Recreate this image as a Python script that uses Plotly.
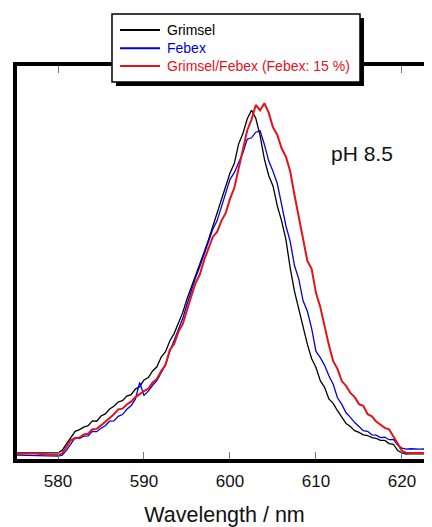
import plotly.graph_objects as go

wavelength = [575, 577, 579, 580, 580.5, 581, 581.5, 582, 582.5, 583, 583.5, 584, 584.5, 585, 585.5,
              586, 586.5, 587, 587.5, 588, 588.5, 589, 589.5, 590, 590.5, 591, 591.5, 592, 592.5,
              593, 593.5, 594, 594.5, 595, 595.5, 596, 596.5, 597, 597.5, 598, 598.5, 599, 599.5,
              600, 600.5, 601, 601.5, 602, 602.5, 603, 603.5, 604, 604.5, 605, 605.5, 606, 606.5,
              607, 607.5, 608, 608.5, 609, 609.5, 610, 610.5, 611, 611.5, 612, 612.5, 613, 613.5,
              614, 614.5, 615, 615.5, 616, 616.5, 617, 617.5, 618, 618.5, 619, 619.5, 620, 620.5,
              621, 622, 623.5]

grimsel = [0.003, 0.004, 0.003, 0.003, 0.011, 0.030, 0.046, 0.065, 0.070, 0.077, 0.081, 0.095, 0.094,
           0.109, 0.115, 0.129, 0.137, 0.149, 0.153, 0.166, 0.170, 0.186, 0.193, 0.212, 0.219, 0.238,
           0.250, 0.278, 0.293, 0.324, 0.345, 0.375, 0.405, 0.444, 0.477, 0.513, 0.540, 0.579, 0.614,
           0.653, 0.686, 0.728, 0.766, 0.805, 0.832, 0.888, 0.918, 0.960, 0.985, 0.962, 0.912, 0.845,
           0.798, 0.768, 0.711, 0.668, 0.615, 0.533, 0.466, 0.413, 0.362, 0.314, 0.273, 0.248, 0.210,
           0.191, 0.158, 0.145, 0.124, 0.105, 0.087, 0.079, 0.067, 0.062, 0.055, 0.053, 0.047, 0.045,
           0.039, 0.039, 0.030, 0.028, 0.010, 0.003, 0.000, 0.001, 0.000, 0.000]

febex = [-0.003, -0.004, -0.005, -0.006, -0.003, 0.011, 0.029, 0.047, 0.044, 0.051, 0.052, 0.065, 0.064,
         0.074, 0.081, 0.094, 0.095, 0.108, 0.113, 0.128, 0.138, 0.157, 0.205, 0.168, 0.180, 0.197,
         0.210, 0.231, 0.256, 0.294, 0.325, 0.357, 0.388, 0.429, 0.468, 0.506, 0.537, 0.572, 0.603,
         0.644, 0.668, 0.707, 0.746, 0.787, 0.806, 0.836, 0.863, 0.902, 0.906, 0.922, 0.926, 0.887,
         0.840, 0.810, 0.775, 0.715, 0.654, 0.609, 0.540, 0.501, 0.439, 0.409, 0.359, 0.294, 0.276,
         0.254, 0.224, 0.200, 0.161, 0.142, 0.118, 0.105, 0.090, 0.079, 0.067, 0.065, 0.055, 0.054,
         0.047, 0.048, 0.041, 0.042, 0.026, 0.017, 0.014, 0.015, 0.014, 0.015]

mixture = [0.000, 0.002, -0.002, -0.003, 0.002, 0.023, 0.040, 0.045, 0.047, 0.056, 0.058, 0.071, 0.072,
           0.082, 0.093, 0.105, 0.114, 0.128, 0.130, 0.142, 0.150, 0.163, 0.172, 0.180, 0.187, 0.205,
           0.215, 0.238, 0.255, 0.298, 0.315, 0.350, 0.372, 0.416, 0.452, 0.490, 0.515, 0.556, 0.590,
           0.622, 0.636, 0.668, 0.690, 0.731, 0.762, 0.818, 0.873, 0.927, 0.958, 1.000, 0.985, 1.005,
           0.978, 0.936, 0.915, 0.876, 0.852, 0.810, 0.742, 0.679, 0.625, 0.553, 0.530, 0.461, 0.421,
           0.364, 0.312, 0.266, 0.244, 0.209, 0.195, 0.175, 0.163, 0.143, 0.138, 0.114, 0.108, 0.093,
           0.085, 0.075, 0.071, 0.052, 0.030, 0.009, 0.003, 0.003, 0.003, 0.003]

x_ticks = [580, 590, 600, 610, 620]
series_names = ["Grimsel", "Febex", "Grimsel/Febex (Febex: 15 %)"]
series_colors = ["#000000", "#0000e0", "#e3121b"]
series_widths = [1.3, 1.3, 2.0]
series_values = [grimsel, febex, mixture]

FONT = "Arial, Liberation Sans, sans-serif"

fig = go.Figure()
for name, color, width, vals in zip(series_names, series_colors, series_widths, series_values):
    fig.add_trace(go.Scatter(x=wavelength, y=vals, mode="lines", name=name,
                             line=dict(color=color, width=width), showlegend=False))

# hand-drawn legend (box with drop shadow), paper coordinates
fig.add_shape(type="rect", xref="paper", yref="paper", x0=0.2386, x1=0.8361, y0=0.9491, y1=1.1221,
              fillcolor="black", line=dict(width=0), layer="above")
fig.add_shape(type="rect", xref="paper", yref="paper", x0=0.2289, x1=0.8265, y0=0.9593, y1=1.1323,
              fillcolor="white", line=dict(color="black", width=1.5), layer="above")
legend_rows = [1.0916, 1.0450, 1.0]
for name, color, ry in zip(series_names, series_colors, legend_rows):
    fig.add_shape(type="line", xref="paper", yref="paper", x0=0.2482, x1=0.3446, y0=ry, y1=ry,
                  line=dict(color=color, width=2), layer="above")
    fig.add_annotation(xref="paper", yref="paper", x=0.357, y=ry, text=name, showarrow=False,
                       xanchor="left", yanchor="middle",
                       font=dict(family=FONT, size=14, color=color))

fig.add_annotation(x=611.5, y=0.862, text="pH 8.5", showarrow=False,
                   xanchor="left", yanchor="middle",
                   font=dict(family=FONT, size=21, color="#111"))

fig.update_layout(
    width=424, height=519,
    margin=dict(l=9, r=0, t=58, b=68),
    paper_bgcolor="white", plot_bgcolor="white",
    font=dict(family=FONT, color="#111"),
    showlegend=False,
    xaxis=dict(range=[575.233, 623.49], tickvals=x_ticks, ticktext=[str(t) for t in x_ticks],
               ticks="inside", ticklen=7, tickwidth=1, tickcolor="#777",
               showline=True, linewidth=3.5, linecolor="black", mirror="ticks",
               showgrid=False, zeroline=False, ticklabelstandoff=4,
               tickfont=dict(family=FONT, size=17, color="#111"),
               title=dict(text="Wavelength / nm", font=dict(family=FONT, size=21.5, color="#111"),
                          standoff=21)),
    yaxis=dict(range=[-0.0143, 1.1117], showticklabels=False, ticks="",
               showline=True, linewidth=3.5, linecolor="black", mirror=False,
               showgrid=False, zeroline=False),
)

fig.write_html("out.html")
